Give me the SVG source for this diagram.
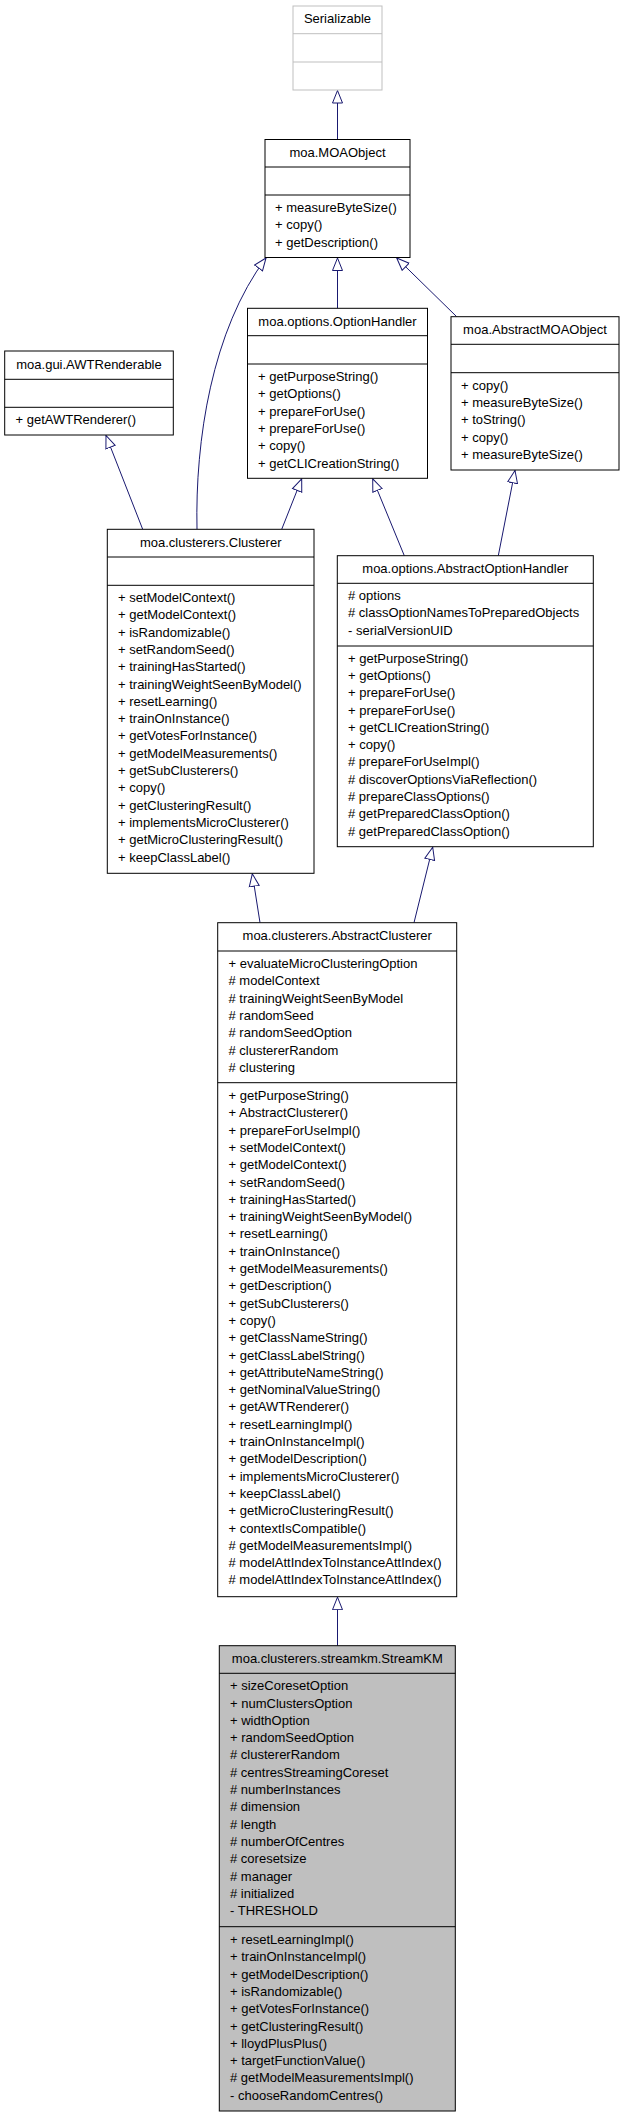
<svg xmlns="http://www.w3.org/2000/svg" width="624" height="2117" viewBox="0 0 624 2117">
<style>
text{font-family:"Liberation Sans",Arial,Helvetica,sans-serif;font-size:13px;fill:#000}
.t{text-anchor:middle}
.box{fill:#fff;stroke:#000;stroke-width:1}
.gbox{fill:#fff;stroke:#bfbfbf;stroke-width:1}
.cur{fill:#bfbfbf;stroke:#000;stroke-width:1}
.div{stroke:#000;stroke-width:1}
.gdiv{stroke:#bfbfbf;stroke-width:1}
.e{fill:none;stroke:#191970;stroke-width:1;marker-end:url(#arr)}
</style>
<defs>
<marker id="arr" viewBox="0 0 14 12" refX="13" refY="6" markerWidth="14" markerHeight="12" markerUnits="userSpaceOnUse" orient="auto">
<path d="M13,6 L0.5,1 L0.5,11 z" fill="#fff" stroke="#191970" stroke-width="1"/>
</marker>
</defs>
<rect width="624" height="2117" fill="#fff"/>
<g id="connectors">
<path class="e" d="M337.5,139.5 L337.5,90.5"/>
<path class="e" d="M337.5,308.3 L337.5,258"/>
<path class="e" d="M456.7,316.7 L396.7,258"/>
<path class="e" d="M197,529.3 C195,440 212,330 266,258"/>
<path class="e" d="M142.7,529.3 L106,435.5"/>
<path class="e" d="M281.7,529.3 L301.7,478.8"/>
<path class="e" d="M404.3,555.7 L372.7,478.8"/>
<path class="e" d="M498.3,555.7 L515,470.5"/>
<path class="e" d="M260,922.7 L252.3,873.8"/>
<path class="e" d="M414,922.7 L432.7,847.2"/>
<path class="e" d="M337.5,1645.7 L337.5,1597.2"/>
</g>
<g id="Serializable">
<rect class="gbox" x="293" y="6" width="89" height="84"/>
<line class="gdiv" x1="293" y1="33.7" x2="382" y2="33.7"/>
<line class="gdiv" x1="293" y1="62" x2="382" y2="62"/>
<text class="t" x="337.5" y="23.2">Serializable</text>
</g>
<g id="MOAObject">
<rect class="box" x="265" y="139.5" width="145" height="118"/>
<line class="div" x1="265" y1="167" x2="410" y2="167"/>
<line class="div" x1="265" y1="195" x2="410" y2="195"/>
<text class="t" x="337.5" y="156.8">moa.MOAObject</text>
<text x="275" y="212">+ measureByteSize()</text>
<text x="275" y="229.3">+ copy()</text>
<text x="275" y="246.6">+ getDescription()</text>
</g>
<g id="OptionHandler">
<rect class="box" x="247.5" y="308.3" width="180" height="170"/>
<line class="div" x1="247.5" y1="335.7" x2="427.5" y2="335.7"/>
<line class="div" x1="247.5" y1="364" x2="427.5" y2="364"/>
<text class="t" x="337.5" y="325.8">moa.options.OptionHandler</text>
<text x="258" y="381">+ getPurposeString()</text>
<text x="258" y="398.3">+ getOptions()</text>
<text x="258" y="415.6">+ prepareForUse()</text>
<text x="258" y="432.9">+ prepareForUse()</text>
<text x="258" y="450.2">+ copy()</text>
<text x="258" y="467.5">+ getCLICreationString()</text>
</g>
<g id="AbstractMOAObject">
<rect class="box" x="451" y="316.7" width="168" height="153.3"/>
<line class="div" x1="451" y1="344.3" x2="619" y2="344.3"/>
<line class="div" x1="451" y1="372.7" x2="619" y2="372.7"/>
<text class="t" x="535" y="334.2">moa.AbstractMOAObject</text>
<text x="461" y="389.7">+ copy()</text>
<text x="461" y="407">+ measureByteSize()</text>
<text x="461" y="424.3">+ toString()</text>
<text x="461" y="441.6">+ copy()</text>
<text x="461" y="458.9">+ measureByteSize()</text>
</g>
<g id="AWTRenderable">
<rect class="box" x="4.7" y="351" width="168.6" height="84"/>
<line class="div" x1="4.7" y1="379.3" x2="173.3" y2="379.3"/>
<line class="div" x1="4.7" y1="407.3" x2="173.3" y2="407.3"/>
<text class="t" x="89" y="368.5">moa.gui.AWTRenderable</text>
<text x="15.5" y="424.3">+ getAWTRenderer()</text>
</g>
<g id="Clusterer">
<rect class="box" x="107.3" y="529.3" width="206.7" height="344"/>
<line class="div" x1="107.3" y1="557" x2="314" y2="557"/>
<line class="div" x1="107.3" y1="585.3" x2="314" y2="585.3"/>
<text class="t" x="210.7" y="546.8">moa.clusterers.Clusterer</text>
<text x="118" y="602">+ setModelContext()</text>
<text x="118" y="619.3">+ getModelContext()</text>
<text x="118" y="636.6">+ isRandomizable()</text>
<text x="118" y="653.9">+ setRandomSeed()</text>
<text x="118" y="671.2">+ trainingHasStarted()</text>
<text x="118" y="688.5">+ trainingWeightSeenByModel()</text>
<text x="118" y="705.8">+ resetLearning()</text>
<text x="118" y="723.1">+ trainOnInstance()</text>
<text x="118" y="740.4">+ getVotesForInstance()</text>
<text x="118" y="757.7">+ getModelMeasurements()</text>
<text x="118" y="775">+ getSubClusterers()</text>
<text x="118" y="792.3">+ copy()</text>
<text x="118" y="809.6">+ getClusteringResult()</text>
<text x="118" y="826.9">+ implementsMicroClusterer()</text>
<text x="118" y="844.2">+ getMicroClusteringResult()</text>
<text x="118" y="861.5">+ keepClassLabel()</text>
</g>
<g id="AbstractOptionHandler">
<rect class="box" x="337.3" y="555.7" width="256" height="291"/>
<line class="div" x1="337.3" y1="583.3" x2="593.3" y2="583.3"/>
<line class="div" x1="337.3" y1="646" x2="593.3" y2="646"/>
<text class="t" x="465.3" y="573.2">moa.options.AbstractOptionHandler</text>
<text x="348" y="600"># options</text>
<text x="348" y="617.3"># classOptionNamesToPreparedObjects</text>
<text x="348" y="634.6">- serialVersionUID</text>
<text x="348" y="662.6">+ getPurposeString()</text>
<text x="348" y="679.9">+ getOptions()</text>
<text x="348" y="697.2">+ prepareForUse()</text>
<text x="348" y="714.5">+ prepareForUse()</text>
<text x="348" y="731.8">+ getCLICreationString()</text>
<text x="348" y="749.1">+ copy()</text>
<text x="348" y="766.4"># prepareForUseImpl()</text>
<text x="348" y="783.7"># discoverOptionsViaReflection()</text>
<text x="348" y="801"># prepareClassOptions()</text>
<text x="348" y="818.3"># getPreparedClassOption()</text>
<text x="348" y="835.6"># getPreparedClassOption()</text>
</g>
<g id="AbstractClusterer">
<rect class="box" x="217.7" y="922.7" width="239" height="674"/>
<line class="div" x1="217.7" y1="951" x2="456.7" y2="951"/>
<line class="div" x1="217.7" y1="1082.7" x2="456.7" y2="1082.7"/>
<text class="t" x="337.2" y="940.2">moa.clusterers.AbstractClusterer</text>
<text x="228.5" y="968">+ evaluateMicroClusteringOption</text>
<text x="228.5" y="985.3"># modelContext</text>
<text x="228.5" y="1002.6"># trainingWeightSeenByModel</text>
<text x="228.5" y="1019.9"># randomSeed</text>
<text x="228.5" y="1037.2"># randomSeedOption</text>
<text x="228.5" y="1054.5"># clustererRandom</text>
<text x="228.5" y="1071.8"># clustering</text>
<text x="228.5" y="1100">+ getPurposeString()</text>
<text x="228.5" y="1117.3">+ AbstractClusterer()</text>
<text x="228.5" y="1134.6">+ prepareForUseImpl()</text>
<text x="228.5" y="1151.9">+ setModelContext()</text>
<text x="228.5" y="1169.2">+ getModelContext()</text>
<text x="228.5" y="1186.5">+ setRandomSeed()</text>
<text x="228.5" y="1203.8">+ trainingHasStarted()</text>
<text x="228.5" y="1221.1">+ trainingWeightSeenByModel()</text>
<text x="228.5" y="1238.4">+ resetLearning()</text>
<text x="228.5" y="1255.7">+ trainOnInstance()</text>
<text x="228.5" y="1273">+ getModelMeasurements()</text>
<text x="228.5" y="1290.3">+ getDescription()</text>
<text x="228.5" y="1307.6">+ getSubClusterers()</text>
<text x="228.5" y="1324.9">+ copy()</text>
<text x="228.5" y="1342.2">+ getClassNameString()</text>
<text x="228.5" y="1359.5">+ getClassLabelString()</text>
<text x="228.5" y="1376.8">+ getAttributeNameString()</text>
<text x="228.5" y="1394.1">+ getNominalValueString()</text>
<text x="228.5" y="1411.4">+ getAWTRenderer()</text>
<text x="228.5" y="1428.7">+ resetLearningImpl()</text>
<text x="228.5" y="1446">+ trainOnInstanceImpl()</text>
<text x="228.5" y="1463.3">+ getModelDescription()</text>
<text x="228.5" y="1480.6">+ implementsMicroClusterer()</text>
<text x="228.5" y="1497.9">+ keepClassLabel()</text>
<text x="228.5" y="1515.2">+ getMicroClusteringResult()</text>
<text x="228.5" y="1532.5">+ contextIsCompatible()</text>
<text x="228.5" y="1549.8"># getModelMeasurementsImpl()</text>
<text x="228.5" y="1567.1"># modelAttIndexToInstanceAttIndex()</text>
<text x="228.5" y="1584.4"># modelAttIndexToInstanceAttIndex()</text>
</g>
<g id="StreamKM">
<rect class="cur" x="219.3" y="1645.7" width="236" height="465.3"/>
<line class="div" x1="219.3" y1="1673.3" x2="455.3" y2="1673.3"/>
<line class="div" x1="219.3" y1="1926.7" x2="455.3" y2="1926.7"/>
<text class="t" x="337.3" y="1663.2">moa.clusterers.streamkm.StreamKM</text>
<text x="230" y="1690.2">+ sizeCoresetOption</text>
<text x="230" y="1707.5">+ numClustersOption</text>
<text x="230" y="1724.8">+ widthOption</text>
<text x="230" y="1742.1">+ randomSeedOption</text>
<text x="230" y="1759.4"># clustererRandom</text>
<text x="230" y="1776.7"># centresStreamingCoreset</text>
<text x="230" y="1794"># numberInstances</text>
<text x="230" y="1811.3"># dimension</text>
<text x="230" y="1828.6"># length</text>
<text x="230" y="1845.9"># numberOfCentres</text>
<text x="230" y="1863.2"># coresetsize</text>
<text x="230" y="1880.5"># manager</text>
<text x="230" y="1897.8"># initialized</text>
<text x="230" y="1915.1">- THRESHOLD</text>
<text x="230" y="1944">+ resetLearningImpl()</text>
<text x="230" y="1961.3">+ trainOnInstanceImpl()</text>
<text x="230" y="1978.6">+ getModelDescription()</text>
<text x="230" y="1995.9">+ isRandomizable()</text>
<text x="230" y="2013.2">+ getVotesForInstance()</text>
<text x="230" y="2030.5">+ getClusteringResult()</text>
<text x="230" y="2047.8">+ lloydPlusPlus()</text>
<text x="230" y="2065.1">+ targetFunctionValue()</text>
<text x="230" y="2082.4"># getModelMeasurementsImpl()</text>
<text x="230" y="2099.7">- chooseRandomCentres()</text>
</g>
</svg>
